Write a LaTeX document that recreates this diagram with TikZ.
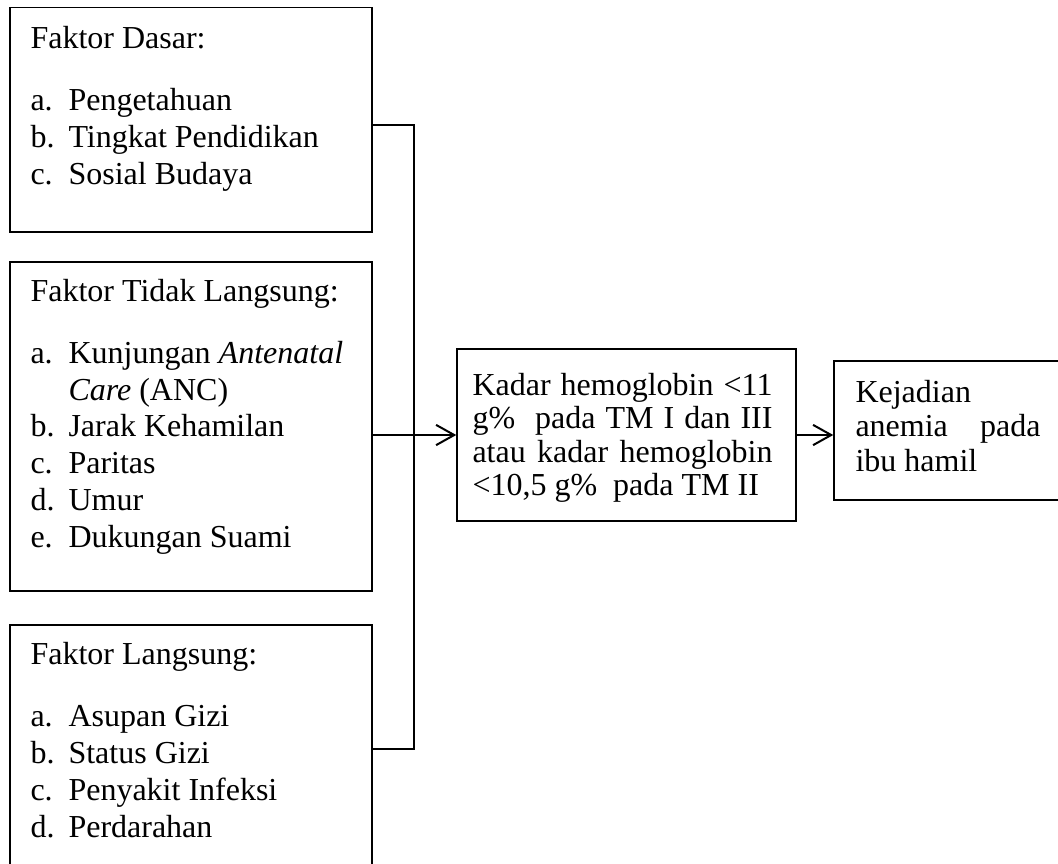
\documentclass[tikz,border=0pt]{standalone}
\usepackage{fontspec}
\setmainfont{Liberation Serif}
\usetikzlibrary{arrows.meta,fit}
\begin{document}
\begin{tikzpicture}[x=0.375pt,y=-0.375pt,
  box/.style={draw,line width=0.55pt,inner sep=0pt,fit={#1}},
  conn/.style={line width=0.75pt},
  arr/.style={conn,-{Straight Barb[length=6.8pt,width=7.6pt,line width=0.75pt]}},
  txt/.style={anchor=base west,inner sep=0pt,font=\fontsize{12}{13.8}\selectfont}]
\useasboundingbox (0,0) rectangle (1058,863);
\clip (0,0) rectangle (1058,863);
% boxes
\node[box={(10,7.5) (372,232)}] (b1) {};
\node[box={(10,262) (372,591)}] (b2) {};
\node[box={(10,625) (372,900)}] (b3) {};
\node[box={(457,349) (796,521)}] (c) {};
\node[box={(834,361) (1090,500)}] (r) {};
% texts
\node[txt] (t1) at (30,48) {\begin{tabular}[t]{@{}p{14.25pt}@{}l@{}}
\multicolumn{2}{@{}l@{}}{Faktor Dasar:}\\[9.6pt]
a. & Pengetahuan\\
b. & Tingkat Pendidikan\\
c. & Sosial Budaya
\end{tabular}};
\node[txt] (t2) at (30,301.5) {\begin{tabular}[t]{@{}p{14.25pt}@{}l@{}}
\multicolumn{2}{@{}l@{}}{Faktor Tidak Langsung:}\\[9.4pt]
a. & Kunjungan \textit{Antenatal}\\
   & \textit{Care} (ANC)\\
b. & Jarak Kehamilan\\
c. & Paritas\\
d. & Umur\\
e. & Dukungan Suami
\end{tabular}};
\node[txt] (t3) at (30,664.5) {\begin{tabular}[t]{@{}p{14.25pt}@{}l@{}}
\multicolumn{2}{@{}l@{}}{Faktor Langsung:}\\[9.6pt]
a. & Asupan Gizi\\
b. & Status Gizi\\
c. & Penyakit Infeksi\\
d. & Perdarahan
\end{tabular}};
\node[txt] (tc) at (472,395) {\begin{minipage}[t]{112.5pt}\fontsize{12}{12.6}\selectfont
\hbox to\linewidth{Kadar\hfil hemoglobin\hfil <11}
\hbox to\linewidth{g\%\hfil\hfil pada\hfil TM\hfil I\hfil dan\hfil III}
\hbox to\linewidth{atau\hfil kadar\hfil hemoglobin}
\hbox to\linewidth{<10,5 g\%\ \ pada TM II\hfil}
\end{minipage}};
\node[txt] (tr) at (855,402) {\begin{minipage}[t]{69.4pt}\fontsize{12}{13.1}\selectfont
\hbox to\linewidth{Kejadian\hfil}
\hbox to\linewidth{anemia\hfil pada}
\hbox to\linewidth{ibu hamil\hfil}
\end{minipage}};
% connectors
\coordinate (j1) at (414,125);
\coordinate (j3) at (414,749);
\draw[conn] (b1.east |- j1) -- (j1) -- (j3) -- (b3.east |- j3);
\draw[arr] (b2.east |- c.west) -- (c.west);
\draw[arr] (c.east) -- (r.west |- c.east);
\end{tikzpicture}
\end{document}
